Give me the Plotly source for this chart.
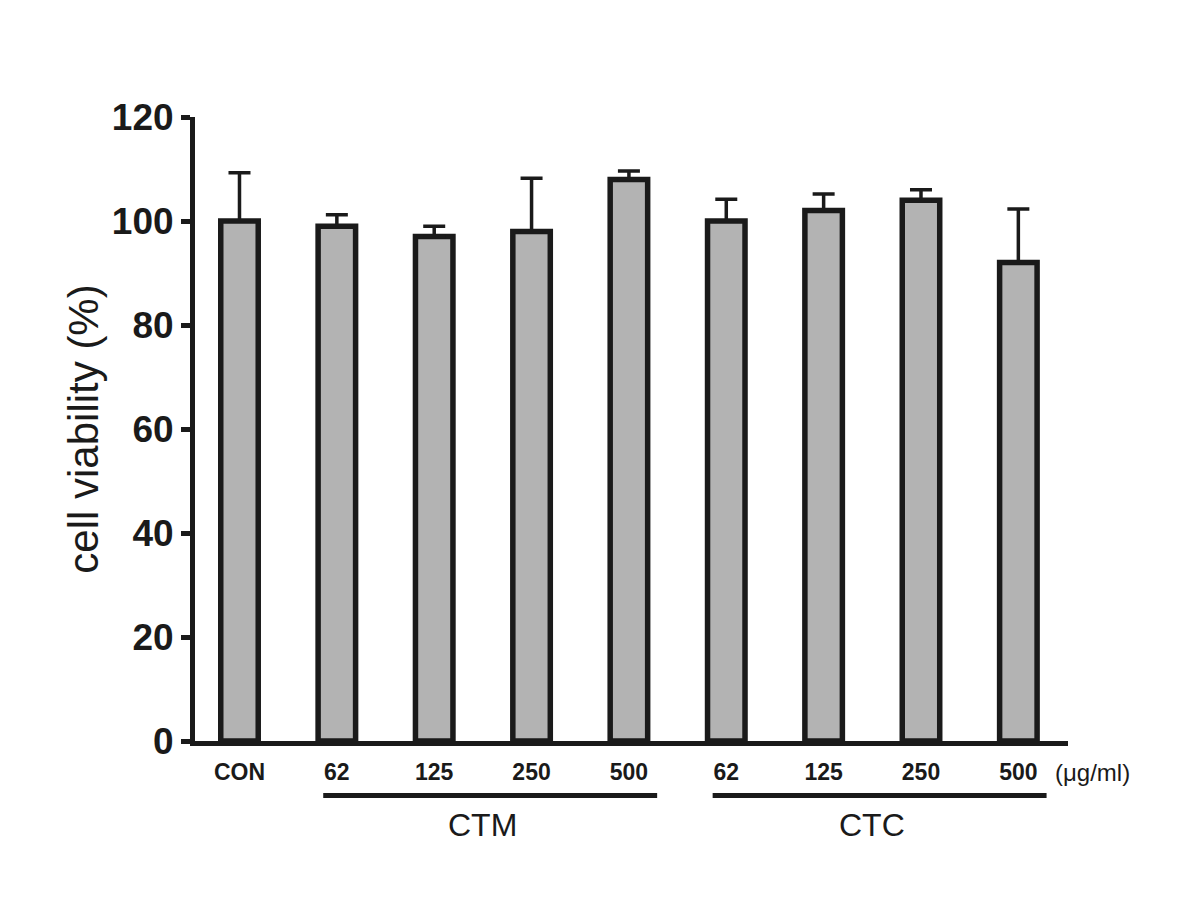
import plotly.graph_objects as go

# ---- data ----
tick_labels = ["CON", "62", "125", "250", "500", "62", "125", "250", "500"]
viability = [100, 99, 97, 98, 108, 100, 102, 104, 92]
sd_upper = [9.3, 2.2, 2.0, 10.2, 1.6, 4.2, 3.2, 2.0, 10.3]
groups = ["CTM", "CTC"]
group_start = [1, 5]
group_end = [4, 8]
unit_label = "(\u03bcg/ml)"
y_title = "cell viability (%)"

x_pos = list(range(len(tick_labels)))

BOLD = "Liberation Sans, Arial, sans-serif"
REG = "Liberation Sans, Arial, sans-serif"
INK = "#1a1a1a"

fig = go.Figure()
fig.add_trace(go.Bar(
    x=x_pos, y=viability, width=0.385,
    marker=dict(color="#b3b3b3", line=dict(color=INK, width=5.5)),
    error_y=dict(type="data", symmetric=False, array=sd_upper,
                 arrayminus=[0] * len(sd_upper),
                 color=INK, thickness=3.5, width=11),
    showlegend=False,
))

shapes = []
annotations = []
for name, s, e in zip(groups, group_start, group_end):
    shapes.append(dict(type="line", xref="x", yref="paper",
                       x0=s - 0.14, x1=e + 0.29, y0=-0.0873, y1=-0.0873,
                       line=dict(color=INK, width=5)))
    annotations.append(dict(xref="x", yref="paper", x=(s + e) / 2, y=-0.134,
                            text=name, showarrow=False, xanchor="center", yanchor="middle",
                            font=dict(family=REG, size=32, color=INK)))
annotations.append(dict(xref="paper", yref="paper", x=0.983, y=-0.050,
                        text=unit_label, showarrow=False, xanchor="left", yanchor="middle",
                        font=dict(family=REG, size=24, color=INK)))

fig.update_layout(
    width=1200, height=900,
    margin=dict(l=186.5, r=140, t=109, b=166.5),
    paper_bgcolor="white", plot_bgcolor="white",
    shapes=shapes, annotations=annotations,
    xaxis=dict(range=[-0.457, 8.51], tickvals=x_pos, ticktext=tick_labels,
               showgrid=False, zeroline=False, showline=True, linecolor=INK, linewidth=5,
               ticks="", ticklabelstandoff=6,
               tickfont=dict(family=BOLD, size=23, color=INK, weight="bold")),
    yaxis=dict(range=[0, 120], tickvals=[0, 20, 40, 60, 80, 100, 120],
               showgrid=False, zeroline=False, showline=True, linecolor=INK, linewidth=5,
               ticks="outside", ticklen=9, tickwidth=5, tickcolor=INK,
               tickfont=dict(family=BOLD, size=37, color=INK, weight="bold"),
               title=dict(text=y_title, standoff=2,
                          font=dict(family=REG, size=42, color=INK))),
)

fig.write_html("out.html")
